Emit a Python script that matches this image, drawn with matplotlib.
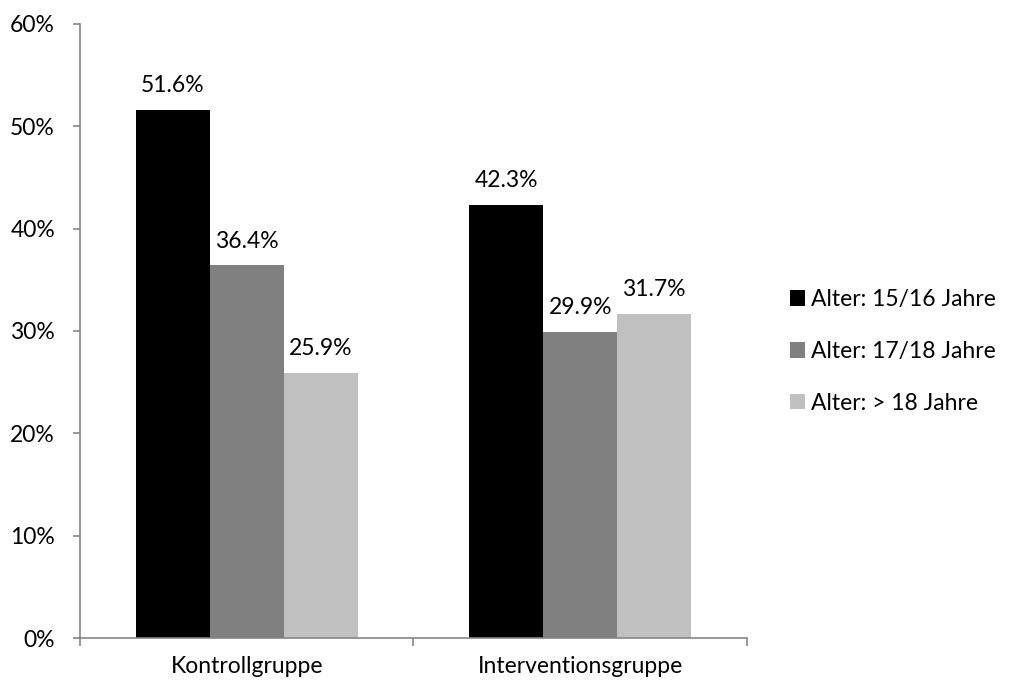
import matplotlib
matplotlib.use("Agg")
import matplotlib.pyplot as plt
import numpy as np
from matplotlib.patches import Patch

groups = ["Kontrollgruppe", "Interventionsgruppe"]
series_names = ["Alter: 15/16 Jahre", "Alter: 17/18 Jahre", "Alter: > 18 Jahre"]
values_1516 = [51.6, 42.3]
values_1718 = [36.4, 29.9]
values_18plus = [25.9, 31.7]
colors = ["#000000", "#808080", "#c0c0c0"]

plt.rcParams["font.family"] = ["Lato", "DejaVu Sans"]
fs = 16.5

fig = plt.figure(figsize=(10.09, 6.85), dpi=100)
ax = fig.add_axes([0.0793, 0.0686, 0.661, 0.8964])

x = np.arange(len(groups))
width = 0.222
offsets = [-width, 0, width]
for vals, off, col in zip([values_1516, values_1718, values_18plus], offsets, colors):
    bars = ax.bar(x + off, vals, width, color=col)
    for b, v in zip(bars, vals):
        ax.text(b.get_x() + b.get_width() / 2, v + 1.75, f"{v:.1f}%",
                ha="center", va="baseline", fontsize=fs)

ax.set_xlim(-0.5, 1.5)
ax.set_ylim(0, 60)
ax.set_yticks(range(0, 61, 10))
ax.set_yticklabels([f"{t}%" for t in range(0, 61, 10)], fontsize=fs)
ax.set_xticks([-0.5, 0.5, 1.5])
ax.set_xticklabels([])
ax.set_xticks(x, minor=True)
ax.set_xticklabels(groups, minor=True, fontsize=fs)
ax.tick_params(axis="x", which="minor", length=0, pad=13)
ax.tick_params(axis="x", which="major", length=6, color="#868686", width=1.2)
ax.tick_params(axis="y", length=5, color="#868686", width=1.2, pad=13)

for side in ["top", "right"]:
    ax.spines[side].set_visible(False)
for side in ["left", "bottom"]:
    ax.spines[side].set_color("#868686")
    ax.spines[side].set_linewidth(1.2)

handles = [Patch(facecolor=c, label=n) for c, n in zip(colors, series_names)]
fig.legend(handles=handles, loc="center left", bbox_to_anchor=(0.763, 0.487),
           frameon=False, fontsize=fs, handlelength=0.65, handleheight=0.65,
           handletextpad=0.25, labelspacing=1.35)

fig.savefig("out.png", dpi=100)
